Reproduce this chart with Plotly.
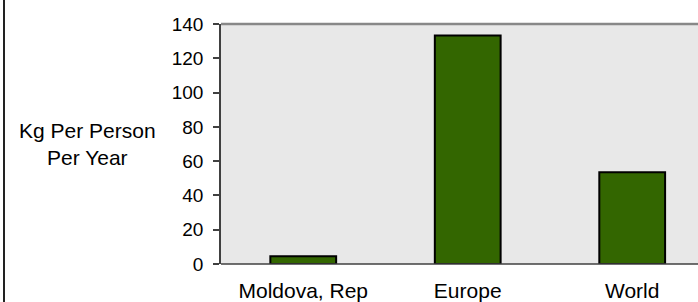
import plotly.graph_objects as go

categories = ["Moldova, Rep", "Europe", "World"]
values = [4.5, 133.3, 53.5]
y_ticks = [0, 20, 40, 60, 80, 100, 120, 140]

W, H = 698, 302
L, R, T, B = 221, 0, 24, 38

fig = go.Figure(go.Bar(
    x=categories, y=values, width=0.4,
    marker=dict(color="#336600", line=dict(color="#000000", width=2)),
))

plot_h = H - T - B
plot_w = W - L - R

fig.update_layout(
    width=W, height=H,
    margin=dict(l=L, r=R, t=T, b=B, pad=0),
    paper_bgcolor="white", plot_bgcolor="#E8E8E8",
    showlegend=False,
    font=dict(family="Liberation Sans, Arial, sans-serif", color="#000000"),
    xaxis=dict(
        range=[-0.5, 2.4], showgrid=False, zeroline=False, automargin=False,
        showline=False, ticks="outside", ticklen=8, tickcolor="rgba(0,0,0,0)",
        tickfont=dict(size=21),
    ),
    yaxis=dict(
        range=[0, 140], tickvals=y_ticks, showgrid=False, zeroline=False,
        automargin=False,
        showline=True, linecolor="#404040", linewidth=1.5,
        ticks="outside", ticklen=6, tickcolor="#404040", tickwidth=1.5,
        tickfont=dict(size=19), ticklabelstandoff=6,
    ),
    shapes=[
        dict(type="line", xref="paper", yref="paper", x0=0, x1=1, y0=0, y1=0,
             line=dict(color="#404040", width=1.5)),
        dict(type="line", xref="paper", yref="paper", x0=0, x1=1, y0=1, y1=1,
             line=dict(color="#888888", width=2.5)),
        dict(type="line", xref="paper", yref="paper",
             x0=(4 - L) / plot_w, x1=(4 - L) / plot_w,
             y0=-(B + 5) / plot_h, y1=(plot_h + T + 5) / plot_h,
             line=dict(color="#222222", width=2)),
    ],
    annotations=[
        dict(text="Kg Per Person<br>Per Year", xref="paper", yref="paper",
             x=(87 - L) / plot_w, y=0.5, xanchor="center", yanchor="middle",
             showarrow=False, font=dict(size=21), align="center"),
    ],
)

fig.write_html("out.html", config={"displayModeBar": False},
               post_script="document.body.style.margin='0';")
